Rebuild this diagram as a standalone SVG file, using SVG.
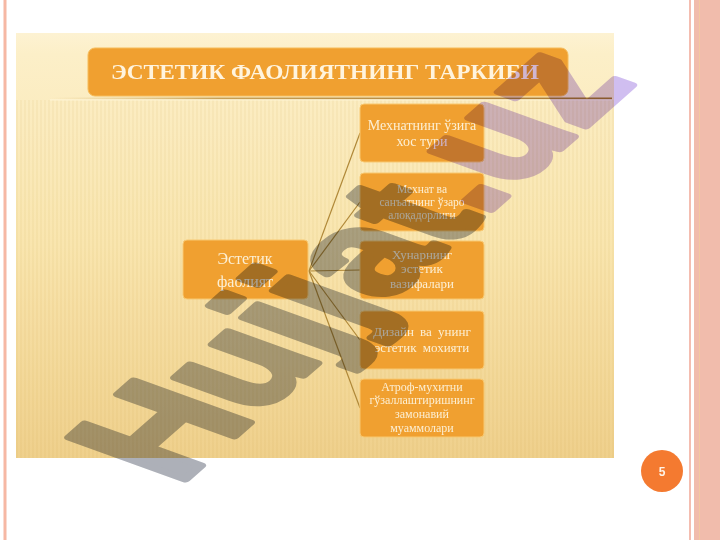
<svg xmlns="http://www.w3.org/2000/svg" width="720" height="540" viewBox="0 0 720 540">
  <defs>
    <linearGradient id="bg" x1="0" y1="0" x2="0" y2="1">
      <stop offset="0" stop-color="#FDF2D2"/>
      <stop offset="0.05" stop-color="#FCEFC8"/>
      <stop offset="0.5" stop-color="#F9E5AE"/>
      <stop offset="1" stop-color="#EFD08C"/>
    </linearGradient>
    <pattern id="stripes" width="4" height="8" patternUnits="userSpaceOnUse">
      <rect x="0" y="0" width="2" height="8" fill="#C89A40" fill-opacity="0.07"/>
    </pattern>
    <linearGradient id="rule" x1="0" y1="0" x2="1" y2="0">
      <stop offset="0" stop-color="#D8B870" stop-opacity="0"/>
      <stop offset="0.3" stop-color="#C8A055"/>
      <stop offset="1" stop-color="#A87830"/>
    </linearGradient>
  </defs>
  <style>
    .node { fill: #F0A030; stroke: #F8C870; stroke-width: 1; }
    .nt { font-family: "Liberation Serif", "DejaVu Serif", serif; fill: #FCEFD4; text-anchor: middle; }
    .conn { stroke: #B08838; stroke-width: 1.2; fill: none; }
    .wm { font-family: "Liberation Sans", Arial, sans-serif; font-weight: bold; font-size: 100px; stroke-width: 5; stroke-linejoin: round; }
  </style>

  <!-- slide frame -->
  <rect x="0" y="0" width="720" height="540" fill="#FFFFFF"/>
  <rect x="3.5" y="0" width="3" height="540" fill="#F6B8A4"/>
  <rect x="689" y="0" width="2" height="540" fill="#F4BDB0"/>
  <rect x="694" y="0" width="26" height="540" fill="#F1BCAC"/>
  <rect x="699" y="0" width="1" height="540" fill="#F3C8A0"/>

  <!-- picture background -->
  <rect x="16" y="33" width="598" height="425" fill="url(#bg)"/>
  <rect x="16" y="100" width="598" height="358" fill="url(#stripes)"/>

  <!-- title -->
  <g id="title">
    <rect x="88" y="48" width="480" height="48" rx="7" fill="#F0A030" stroke="#F6BC5A" stroke-width="1"/>
    <text x="325" y="79" font-family="Liberation Serif, DejaVu Serif, serif" font-weight="bold" font-size="20" fill="#FFF4DE" text-anchor="middle" textLength="428" lengthAdjust="spacingAndGlyphs">ЭСТЕТИК ФАОЛИЯТНИНГ ТАРКИБИ</text>
  </g>
  <rect x="50" y="97.5" width="562" height="1.8" fill="url(#rule)"/>
  <rect x="50" y="99.3" width="562" height="1.2" fill="#FFF6DA" fill-opacity="0.8"/>

  <!-- connectors -->
  <g id="connectors">
    <line class="conn" x1="309" y1="271" x2="360" y2="133"/>
    <line class="conn" x1="309" y1="271" x2="360" y2="202"/>
    <line class="conn" x1="309" y1="271" x2="360" y2="270"/>
    <line class="conn" x1="309" y1="271" x2="360" y2="340"/>
    <line class="conn" x1="309" y1="271" x2="360" y2="408"/>
  </g>

  <g id="root">
    <rect class="node" x="183" y="240" width="125" height="59" rx="4"/>
    <text class="nt" font-size="16"><tspan x="245" y="264">Эстетик</tspan><tspan x="245" y="287">фаолият</tspan></text>
  </g>

  <g id="n1">
    <rect class="node" x="360" y="104" width="124" height="58" rx="4"/>
    <text class="nt" font-size="14"><tspan x="422" y="130">Мехнатнинг  ўзига</tspan><tspan x="422" y="146">хос  тури</tspan></text>
  </g>
  <g id="n2">
    <rect class="node" x="360" y="173" width="124" height="58" rx="4"/>
    <text class="nt" font-size="11.5"><tspan x="422" y="193">Мехнат ва</tspan><tspan x="422" y="206">санъатнинг ўзаро</tspan><tspan x="422" y="219">алоқадорлиги</tspan></text>
  </g>
  <g id="n3">
    <rect class="node" x="360" y="241" width="124" height="58" rx="4"/>
    <text class="nt" font-size="13"><tspan x="422" y="259">Хунарнинг</tspan><tspan x="422" y="273">эстетик</tspan><tspan x="422" y="288">вазифалари</tspan></text>
  </g>
  <g id="n4">
    <rect class="node" x="360" y="311" width="124" height="58" rx="4"/>
    <text class="nt" font-size="13" word-spacing="3"><tspan x="422" y="336">Дизайн  ва унинг</tspan><tspan x="422" y="352">эстетик  мохияти</tspan></text>
  </g>
  <g id="n5">
    <rect class="node" x="360" y="379" width="124" height="58" rx="4"/>
    <text class="nt" font-size="12"><tspan x="422" y="391">Атроф-мухитни</tspan><tspan x="422" y="404">гўзаллаштиришнинг</tspan><tspan x="422" y="418">замонавий</tspan><tspan x="422" y="432">муаммолари</tspan></text>
  </g>

  <!-- watermark -->
  <g id="watermark" style="mix-blend-mode: multiply">
    <text class="wm" transform="matrix(1.1 -0.97 1.69 0.61 178 486)"><tspan fill="#ADB0B8" stroke="#ADB0B8">Hujjat</tspan><tspan fill="#D0BEF0" stroke="#D0BEF0">.uz</tspan></text>
  </g>

  <!-- page number -->
  <g id="page">
    <circle cx="662" cy="471" r="21" fill="#F47A30"/>
    <text x="662" y="475.5" font-family="Liberation Sans, Arial, sans-serif" font-weight="bold" font-size="12" fill="#FFF3E6" text-anchor="middle">5</text>
  </g>
</svg>
